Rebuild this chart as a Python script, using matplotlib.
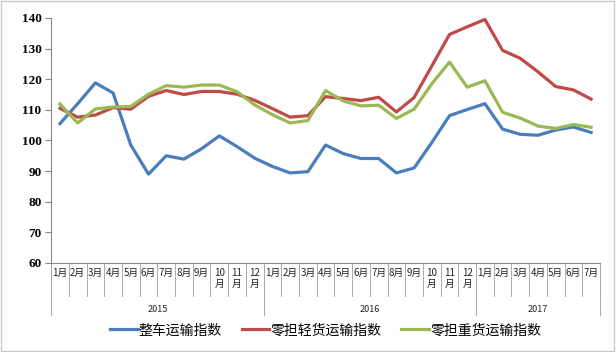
import matplotlib.pyplot as plt
import matplotlib.transforms as mtransforms
from matplotlib.patches import Rectangle

plt.rcParams['font.family'] = ['Noto Sans CJK SC', 'DejaVu Sans']

# 月份与年份
months = ['1月', '2月', '3月', '4月', '5月', '6月', '7月', '8月', '9月', '10\n月', '11\n月', '12\n月'] * 2 \
    + ['1月', '2月', '3月', '4月', '5月', '6月', '7月']
years = ['2015', '2016', '2017']
year_counts = [12, 12, 7]

# 指数数据
zhengche = [105.5, 112.0, 118.8, 115.5, 98.5, 89.0, 95.0, 93.9, 97.3, 101.5, 98.0, 94.2,
            91.5, 89.4, 89.8, 98.5, 95.7, 94.1, 94.1, 89.4, 91.0, 99.3, 108.1, 110.1,
            112.0, 103.7, 102.0, 101.7, 103.4, 104.4, 102.6]
qinghuo = [110.5, 107.6, 108.3, 110.7, 110.2, 114.4, 116.3, 115.0, 116.0, 116.0, 115.1, 113.1,
           110.4, 107.6, 108.1, 114.3, 113.7, 113.0, 114.1, 109.3, 114.0, 124.3, 134.6, 137.1,
           139.5, 129.4, 126.8, 122.4, 117.6, 116.5, 113.5]
zhonghuo = [111.9, 105.7, 110.3, 110.9, 111.1, 115.1, 117.9, 117.4, 118.1, 118.1, 115.9, 111.6,
            108.4, 105.7, 106.5, 116.3, 112.9, 111.3, 111.5, 107.2, 110.2, 118.5, 125.6, 117.4,
            119.5, 109.2, 107.3, 104.7, 103.9, 105.2, 104.3]

series = [(zhengche, '整车运输指数', '#4A7EBB'),
          (qinghuo, '零担轻货运输指数', '#BE4B48'),
          (zhonghuo, '零担重货运输指数', '#98B954')]

fig = plt.figure(figsize=(6.16, 3.52), dpi=100)
fig.patches.append(Rectangle((0.002, 0.003), 0.995, 0.994, transform=fig.transFigure,
                             fill=False, edgecolor='#c8c8c8', linewidth=1.0))
ax = fig.add_axes([0.083, 0.253, 0.891, 0.696])

x = list(range(len(months)))
for values, label, color in series:
    ax.plot(x, values, color=color, linewidth=2.3, label=label, solid_joinstyle='round')

ax.set_xlim(-0.5, len(months) - 0.5)
ax.set_ylim(60, 140)
ax.set_yticks(range(60, 141, 10))
ax.set_yticklabels([str(v) for v in range(60, 141, 10)],
                   fontfamily='Liberation Serif', fontweight='bold', fontsize=9.5)
ax.tick_params(axis='y', length=4, color='#888888', pad=3)
ax.set_xticks([])
for s in ['top', 'right']:
    ax.spines[s].set_visible(False)
for s in ['left', 'bottom']:
    ax.spines[s].set_color('#888888')
    ax.spines[s].set_linewidth(0.8)

# 多级分类轴
trans = mtransforms.blended_transform_factory(ax.transData, ax.transAxes)
ax_h = 245.0
for i in range(len(months) + 1):
    ax.plot([i - 0.5, i - 0.5], [0, -33 / ax_h], transform=trans, color='#aaaaaa',
            linewidth=0.7, clip_on=False)
for i, m in enumerate(months):
    ax.text(i, -5 / ax_h, m, transform=trans, ha='center', va='top', fontsize=7,
            linespacing=1.15, color='#222222')
start = 0
for y, n in zip(years, year_counts):
    for b in [start - 0.5, start + n - 0.5]:
        ax.plot([b, b], [0, -52 / ax_h], transform=trans, color='#aaaaaa',
                linewidth=0.7, clip_on=False)
    ax.text(start + (n - 1) / 2, -47 / ax_h, y, transform=trans, ha='center', va='center',
            fontsize=6.5, color='#222222')
    start += n

ax.legend(loc='center', bbox_to_anchor=(0.5, -0.275), ncol=3, frameon=False, fontsize=10,
          handlelength=2.0, handletextpad=0.1, columnspacing=1.4)

fig.savefig('out.png', dpi=100)
